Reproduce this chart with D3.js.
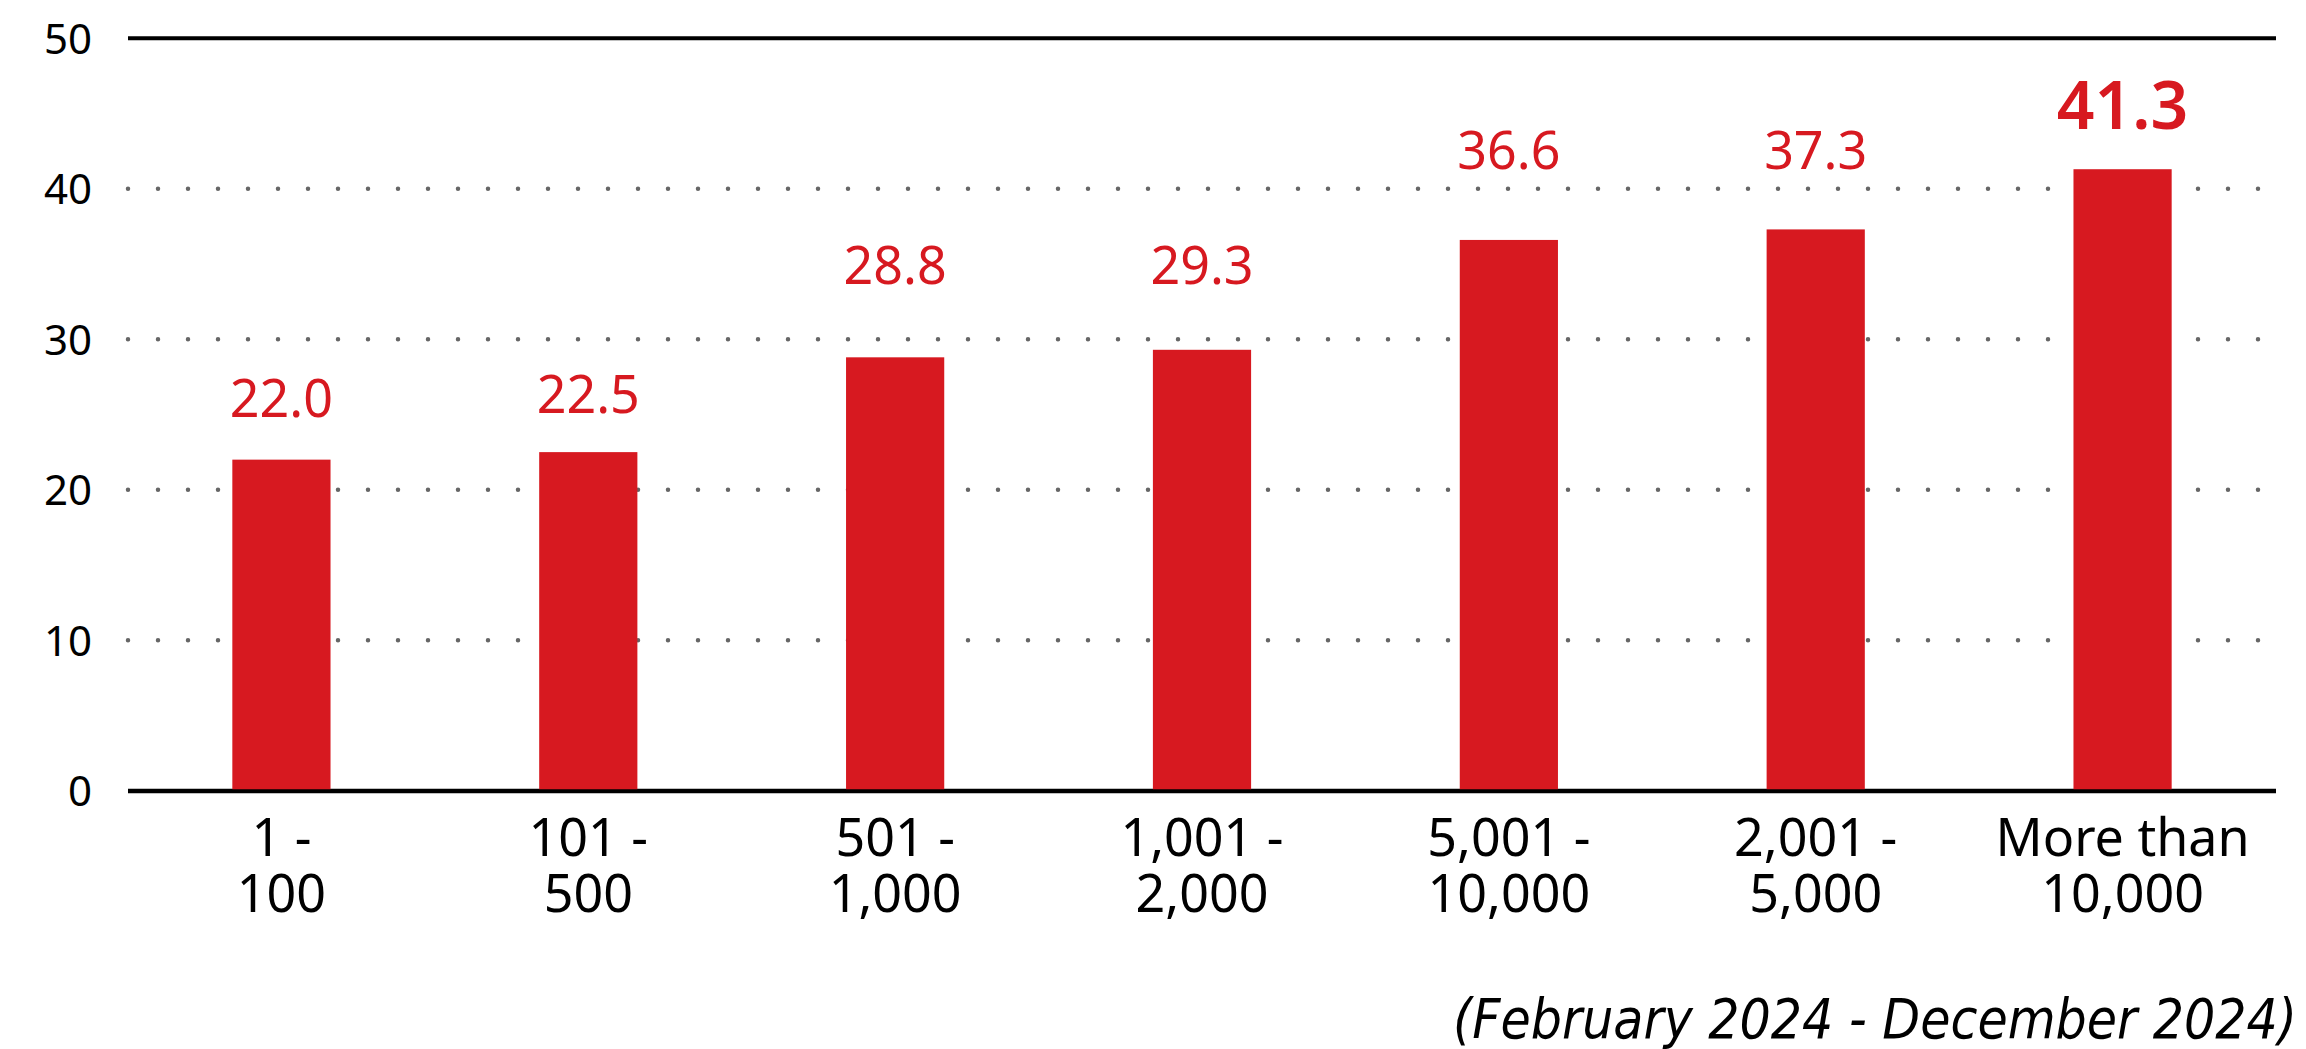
<!DOCTYPE html>
<html>
<head>
<meta charset="utf-8">
<script src="https://cdn.jsdelivr.net/npm/d3@7"></script>
<style>
  html, body { margin: 0; padding: 0; background: #fff; }
  svg { display: block; }
  text { font-family: "Noto Sans", "Open Sans", sans-serif; }
</style>
</head>
<body>
<svg id="chart" width="2306" height="1049"></svg>
<script>
// ---- data ----
const categories = [
  ["1 -", "100"],
  ["101 -", "500"],
  ["501 -", "1,000"],
  ["1,001 -", "2,000"],
  ["5,001 -", "10,000"],
  ["2,001 -", "5,000"],
  ["More than", "10,000"]
];
const values = [22.0, 22.5, 28.8, 29.3, 36.6, 37.3, 41.3];
const yTicks = [0, 10, 20, 30, 40, 50];
const highlightIndex = 6;
const footnote = "(February 2024 - December 2024)";

// ---- layout ----
const RED = "#d71920";
const plotLeft = 128, plotRight = 2276, plotTop = 38.3, plotBottom = 790.7;
// distance (px) from bar top to value label baseline, as placed in the reference
const labelLift = [43, 39, 73, 66, 71, 60, 40];
const svg = d3.select("#chart");

const x = d3.scaleBand()
  .domain(categories.map((c, i) => i))
  .range([plotLeft, plotRight])
  .paddingInner(0.68)
  .paddingOuter(0.34);

const y = d3.scaleLinear().domain([0, 50]).range([plotBottom, plotTop]);

const isSolid = d => d === 0 || d === 50;

// gridlines
svg.append("g").selectAll("line")
  .data(yTicks)
  .join("line")
  .attr("x1", plotLeft).attr("x2", plotRight)
  .attr("y1", d => y(d)).attr("y2", d => y(d))
  .attr("stroke", d => isSolid(d) ? "#000" : "#666")
  .attr("stroke-width", d => isSolid(d) ? 4 : 4.5)
  .attr("stroke-linecap", d => isSolid(d) ? "butt" : "round")
  .attr("stroke-dasharray", d => isSolid(d) ? null : "0,30");

// y axis labels
const yAxis = d3.axisLeft(y).tickValues(yTicks).tickSize(0).tickPadding(36);
const yg = svg.append("g").attr("transform", `translate(${plotLeft},0)`).call(yAxis);
yg.select(".domain").remove();
yg.selectAll("text")
  .attr("fill", "#000")
  .style("font-size", "42px")
  .attr("dy", "0.36em");

// bars
svg.append("g").selectAll("rect")
  .data(values)
  .join("rect")
  .attr("x", (d, i) => x(i))
  .attr("width", x.bandwidth())
  .attr("y", d => y(d))
  .attr("height", d => y(0) - y(d))
  .attr("fill", RED);

// baseline on top of bars
svg.append("line")
  .attr("x1", plotLeft).attr("x2", plotRight)
  .attr("y1", y(0) + 0.5).attr("y2", y(0) + 0.5)
  .attr("stroke", "#000").attr("stroke-width", 4);

// value labels
svg.append("g").selectAll("text")
  .data(values)
  .join("text")
  .attr("x", (d, i) => x(i) + x.bandwidth() / 2)
  .attr("y", (d, i) => y(d) - labelLift[i])
  .attr("text-anchor", "middle")
  .attr("fill", RED)
  .style("font-size", (d, i) => i === highlightIndex ? "66px" : "52px")
  .style("font-weight", (d, i) => i === highlightIndex ? 600 : 400)
  .text(d => d.toFixed(1));

// x axis labels
const xAxis = d3.axisBottom(x).tickSize(0).tickFormat(() => "");
const xg = svg.append("g").attr("transform", `translate(0,${plotBottom})`).call(xAxis);
xg.select(".domain").remove();
xg.selectAll(".tick text").each(function(d) {
  const t = d3.select(this).attr("y", 0).attr("dy", null)
    .attr("fill", "#000").style("font-size", "52px");
  categories[d].forEach((line, k) => {
    t.append("tspan").attr("x", 0).attr("y", 65 + k * 56).text(line);
  });
});

// footnote
const fn = svg.append("text")
  .attr("x", 2297).attr("y", 1038)
  .attr("text-anchor", "end")
  .attr("fill", "#000")
  .style("font-family", "'DejaVu Sans Condensed', 'DejaVu Sans', sans-serif")
  .style("font-stretch", "condensed")
  .style("font-style", "italic")
  .style("font-size", "52px")
  .text(footnote);
const w = fn.node().getComputedTextLength();
fn.style("font-size", (52 * 844 / w) + "px");
</script>
</body>
</html>
